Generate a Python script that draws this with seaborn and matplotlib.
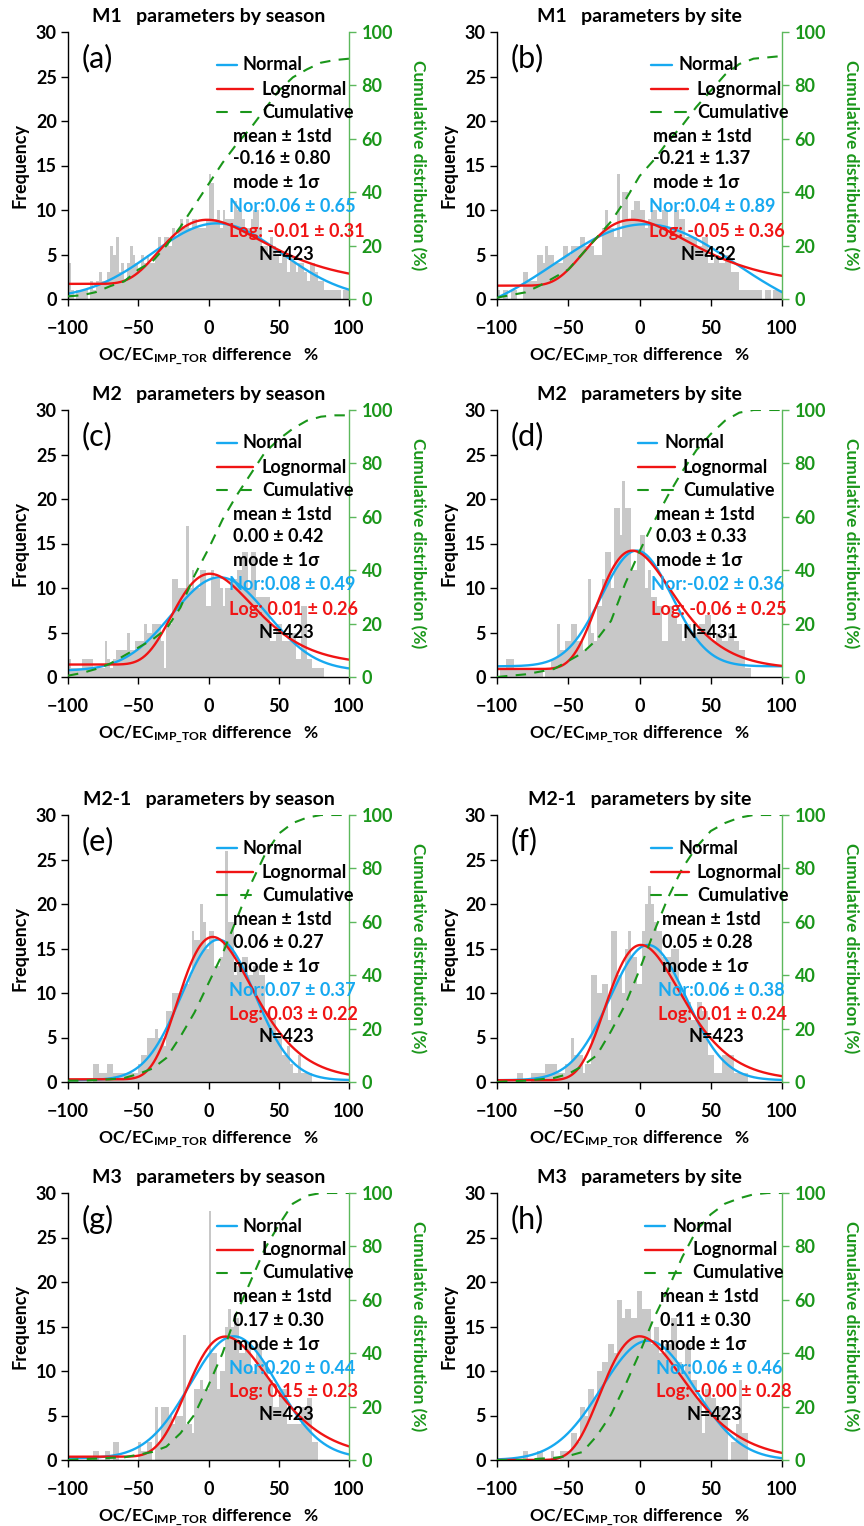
import numpy as np
import matplotlib
matplotlib.use("Agg")
import matplotlib.pyplot as plt
import seaborn as sns

sns.set_theme(style="ticks")
plt.rcParams['font.family'] = ['Lato', 'DejaVu Sans']
plt.rcParams['font.weight'] = 'bold'
plt.rcParams['text.color'] = 'black'
plt.rcParams['axes.labelcolor'] = 'black'
plt.rcParams['xtick.color'] = 'black'
plt.rcParams['ytick.color'] = 'black'
plt.rcParams['mathtext.fontset'] = 'custom'
plt.rcParams['mathtext.rm'] = 'Lato:bold'
plt.rcParams['mathtext.bf'] = 'Lato:bold'
plt.rcParams['mathtext.it'] = 'Lato:bold'

# ---------------- data ----------------
bin_edges = np.arange(-100, 101, 2)
bin_centers = bin_edges[:-1] + 1
cum_x = [-100, -90, -80, -70, -60, -50, -40, -30, -20, -10, 0, 10, 20, 30, 40, 50, 60, 70, 80, 90, 100]

letters = ["(a)", "(b)", "(c)", "(d)", "(e)", "(f)", "(g)", "(h)"]
titles = ["M1   parameters by season", "M1   parameters by site",
          "M2   parameters by season", "M2   parameters by site",
          "M2-1   parameters by season", "M2-1   parameters by site",
          "M3   parameters by season", "M3   parameters by site"]
mean_std = ["-0.16 ± 0.80", "-0.21 ± 1.37", "0.00 ± 0.42", "0.03 ± 0.33",
            "0.06 ± 0.27", "0.05 ± 0.28", "0.17 ± 0.30", "0.11 ± 0.30"]
nor_txt = ["Nor:0.06 ± 0.65", "Nor:0.04 ± 0.89", "Nor:0.08 ± 0.49", "Nor:-0.02 ± 0.36",
           "Nor:0.07 ± 0.37", "Nor:0.06 ± 0.38", "Nor:0.20 ± 0.44", "Nor:0.06 ± 0.46"]
log_txt = ["Log: -0.01 ± 0.31", "Log: -0.05 ± 0.36", "Log: 0.01 ± 0.26", "Log: -0.06 ± 0.25",
           "Log: 0.03 ± 0.22", "Log: 0.01 ± 0.24", "Log: 0.15 ± 0.23", "Log: -0.00 ± 0.28"]
n_txt = ["N=423", "N=432", "N=423", "N=431", "N=423", "N=423", "N=423", "N=423"]

counts_a = [4,1,0,1,1,1,1,0,2,1, 2,3,2,2,3,6,5,7,3,4, 2,4,6,5,4,3,5,4,5,4, 4,5,7,6,7,7,6,8,7,8,
            9,8,9,8,9,9,8,8,8,9, 14,13,9,10,8,10,9,9,9,11, 10,10,9,8,8,9,10,10,8,6,
            6,5,7,6,5,4,5,5,3,5, 4,3,4,4,3,2,4,4,3,2, 2,1,1,1,1,1,1,0,1,1]
counts_b = [1,0,1,1,0,1,1,0,0,3, 3,2,2,2,5,5,4,6,5,5, 4,4,4,6,6,5,6,6,6,7, 7,6,6,6,5,5,5,8,10,8,
            8,7,14,7,12,12,9,10,11,11, 10,10,8,9,10,10,9,9,10,10, 8,8,10,10,9,9,7,7,7,7,
            6,6,7,7,4,4,5,5,4,4, 5,5,3,3,3,1,1,1,1,1, 1,1,1,0,1,1,0,1,1,1]
counts_c = [2,1,1,1,1,2,2,2,2,1, 1,1,1,4,2,1,2,3,3,3, 3,5,3,3,4,4,4,6,5,5, 6,6,6,4,1,6,6,11,11,10,
            10,10,17,10,12,10,10,12,12,8, 8,12,11,11,10,8,10,10,11,11, 12,12,14,14,10,14,14,9,9,9,
            9,9,4,4,6,6,4,4,4,5, 5,2,2,8,8,2,2,1,1,1, 1,0,0,0,0,0,0,0,0,0]
counts_d = [0,1,1,2,2,2,1,1,1,1, 1,1,1,1,1,1,0,1,1,2, 2,6,3,3,4,4,6,6,4,4, 3,3,11,5,4,8,8,11,14,14,
            10,19,19,16,22,19,19,12,12,14, 16,16,10,12,9,9,8,8,4,4, 8,8,7,6,6,4,6,6,5,5,
            5,6,6,7,7,4,4,5,5,4, 4,5,5,4,4,3,3,1,1,0, 0,0,0,0,0,0,0,0,0,0]
counts_e = [0,0,0,0,0,0,0,0,0,2, 2,1,1,1,2,2,1,1,1,1, 1,1,1,1,1,2,3,3,5,5, 5,6,5,5,4,8,8,10,10,10,
            10,11,11,12,17,16,16,20,18,15, 17,17,13,13,14,16,26,18,18,12, 13,13,14,14,12,12,13,13,12,12,
            8,8,7,7,5,5,3,3,4,2, 1,1,3,1,1,1,1,0,0,0, 0,0,0,0,0,0,0,0,0,0]
counts_f = [0,0,0,0,0,0,0,1,1,0, 0,0,1,1,1,1,1,2,2,2, 2,1,1,1,2,2,5,3,3,3, 1,2,2,12,12,10,10,11,11,7,
            17,17,12,12,10,15,17,14,14,11, 11,17,20,22,20,18,17,17,14,14, 14,15,15,15,10,10,9,9,7,7,
            9,9,8,8,3,3,1,1,1,3, 3,3,3,1,1,1,1,1,0,0, 0,0,0,0,0,0,0,0,0,0]
counts_g = [0,0,0,0,0,0,0,0,0,1, 1,0,0,1,1,0,2,2,0,0, 0,0,0,0,0,2,1,1,2,2, 0,6,2,6,6,6,5,4,5,5,
            5,14,4,4,3,8,8,9,8,8, 28,12,12,8,10,10,15,17,15,16, 16,12,12,13,13,10,10,13,13,11,
            11,9,9,6,6,8,8,8,4,4, 4,4,4,6,6,7,7,2,2,0, 0,0,0,0,0,0,0,0,0,0]
counts_h = [0,0,0,0,0,0,0,0,0,1, 1,0,0,0,1,1,0,0,0,1, 0,0,1,1,1,1,3,3,2,6, 6,5,8,8,7,10,10,11,11,13,
            13,12,18,18,16,17,17,16,16,19, 19,17,17,17,13,15,15,12,12,13, 13,16,16,11,11,10,13,13,9,9,
            7,7,3,8,8,7,7,5,6,6, 6,0,2,2,4,9,3,3,0,0, 0,0,0,0,0,0,0,0,0,0]
counts_all = [counts_a, counts_b, counts_c, counts_d, counts_e, counts_f, counts_g, counts_h]

cum_a = [1, 1.4, 2.6, 4.8, 6.6, 11, 14, 20, 27, 35, 43, 51, 58, 64, 71, 78, 83, 86, 88.5, 89.5, 90]
cum_b = [0.5, 1.5, 2.5, 5, 8, 11, 17, 23, 29, 37, 46, 52, 59, 65, 72, 78, 84, 88, 90, 90.5, 91]
cum_c = [0.5, 1.5, 3, 5, 8, 11, 14, 18, 26, 38, 48, 59, 68, 76, 84, 89, 93, 96, 97.5, 98, 98]
cum_d = [0, 0.5, 1, 2, 3, 6, 9, 14, 21, 35, 47, 58, 68, 77, 85, 91, 96, 99, 100, 100, 100]
cum_e = [0.5, 0.5, 0.7, 1, 1.5, 3, 5, 9, 17, 26, 37, 48, 61, 74, 85, 93, 97, 99, 100, 100, 100]
cum_f = [0, 0.3, 0.5, 1, 1.5, 3, 6, 10, 19, 29, 42, 56, 69, 80, 88, 94, 97, 99, 100, 100, 100]
cum_g = [0, 0.3, 0.5, 0.8, 1, 2, 3, 5, 10, 17, 28, 40, 55, 67, 79, 88, 96, 99, 100, 100, 100]
cum_h = [0, 0, 0, 0.5, 0.8, 1.5, 3, 9, 17, 28, 40, 53, 64, 76, 86, 92, 96, 98, 99.5, 100, 100]
cum_all = [cum_a, cum_b, cum_c, cum_d, cum_e, cum_f, cum_g, cum_h]

# fitted curve parameters: (y0, A, x0, width)
normal_fit = [(0.0, 8.5, 6, 65), (-2.7, 11.1, 4, 89), (0.7, 10.5, 8, 48), (1.2, 13.0, -2, 35),
              (0.2, 15.8, 7, 37), (0.2, 15.2, 6, 38), (0.2, 13.7, 18, 44), (0.0, 13.4, 6, 46)]
lognormal_fit = [(1.7, 7.2, -1, 0.52), (1.5, 7.4, -5, 0.54), (1.4, 10.2, 1, 0.40), (0.9, 13.3, -5, 0.39),
                 (0.3, 16.0, 3, 0.36), (0.2, 15.2, 1, 0.365), (0.37, 13.5, 12, 0.37), (0.0, 13.9, 0, 0.41)]

# ---------------- styling ----------------
BAR = '#c8c8c8'
BLUE = '#17a9f0'
RED = '#f01414'
GREEN = '#1a961a'
GREEN_AX = '#5cb85c'

W_PX, H_PX = 864, 1526
col_x = [68, 497]
col_w = [281, 285]
row_top = [32, 410, 815, 1193]
AX_H = 267

anchors = [
    (149, 169, 175, 185, 194, 165, 161, 191),
    (154, 175, 182, 191, 200, 156, 152, 183),
    (149, 169, 175, 185, 194, 165, 161, 191),
    (141, 160, 168, 178, 186, 159, 154, 185),
    (149, 169, 175, 185, 194, 165, 161, 191),
    (154, 175, 181, 192, 200, 165, 161, 192),
    (149, 169, 175, 185, 194, 165, 161, 191),
    (148, 168, 176, 186, 195, 163, 159, 189),
]
row_dy = [33, 57, 80, 104, 127, 151, 175, 199, 222]

fig = plt.figure(figsize=(W_PX / 100, H_PX / 100), dpi=100)

xg = np.linspace(-99.99, 100, 600)
TICK_FS = 13
FS = 13

for k in range(8):
    r, c = divmod(k, 2)
    aw = col_w[c]
    left = col_x[c] / W_PX
    bottom = 1 - (row_top[r] + AX_H) / H_PX
    ax = fig.add_axes([left, bottom, aw / W_PX, AX_H / H_PX])

    sns.histplot(x=bin_centers, weights=np.asarray(counts_all[k], dtype=float),
                 binwidth=2, binrange=(-100, 100), color=BAR,
                 edgecolor='none', linewidth=0, alpha=1, ax=ax)

    y0, A, x0, w = normal_fit[k]
    yn = y0 + A * np.exp(-((xg - x0) / w) ** 2)
    sns.lineplot(x=xg, y=yn, color=BLUE, linewidth=1.7, ax=ax)
    y0, A, x0, w = lognormal_fit[k]
    yl = y0 + A * np.exp(-(np.log((xg + 100) / (x0 + 100)) / w) ** 2)
    sns.lineplot(x=xg, y=yl, color=RED, linewidth=1.7, ax=ax)

    ax.set_xlim(-100, 100)
    ax.set_ylim(0, 30)
    ax.set_xticks([-100, -50, 0, 50, 100])
    ax.set_yticks([0, 5, 10, 15, 20, 25, 30])
    ax.tick_params(axis='both', direction='out', length=5, width=1, labelsize=TICK_FS)
    ax.tick_params(axis='x', pad=10)
    ax.tick_params(axis='y', pad=3)
    for sp in ['top', 'right']:
        ax.spines[sp].set_visible(False)
    for sp in ['left', 'bottom']:
        ax.spines[sp].set_color('black')
        ax.spines[sp].set_linewidth(1)
    ax.set_ylabel('Frequency', fontsize=13, fontweight='bold', labelpad=5)
    ax.set_xlabel(r'OC/EC$_{\mathrm{IMP\_TOR}}$ difference   %', fontsize=12.5,
                  fontweight='bold', labelpad=6)
    ax.set_title(titles[k], fontsize=14, fontweight='bold', pad=7)

    ax2 = ax.twinx()
    sns.lineplot(x=cum_x, y=cum_all[k], color=GREEN, linewidth=1.5, ax=ax2)
    ax2.lines[-1].set_dashes((5, 4))
    ax2.set_ylim(0, 100)
    ax2.set_yticks([0, 20, 40, 60, 80, 100])
    ax2.tick_params(axis='y', direction='out', length=5, width=1, labelsize=TICK_FS,
                    colors=GREEN_AX, labelcolor=GREEN, pad=4)
    for sp in ['top', 'left', 'bottom']:
        ax2.spines[sp].set_visible(False)
    ax2.spines['right'].set_color(GREEN_AX)
    ax2.spines['right'].set_linewidth(1)
    ax2.set_ylabel('Cumulative distribution (%)', color=GREEN, fontsize=12.5,
                   fontweight='bold', rotation=270, labelpad=24)

    ax2.text(14 / aw, 1 - 26 / AX_H, letters[k], transform=ax2.transAxes, fontsize=22,
             fontweight='normal', ha='left', va='center', color='black')

    lx0, nx1, ntx, lx1, ltx, sx, nrx, nnx = anchors[k]
    fx = lambda px: px / aw
    fy = lambda dy: 1 - dy / AX_H
    tr = ax2.transAxes
    ax2.plot([fx(lx0), fx(nx1)], [fy(row_dy[0])] * 2, color=BLUE, lw=1.7, transform=tr, clip_on=False)
    ax2.text(fx(ntx), fy(row_dy[0]), 'Normal', transform=tr, fontsize=FS, ha='left', va='center')
    ax2.plot([fx(lx0), fx(lx1)], [fy(row_dy[1])] * 2, color=RED, lw=1.7, transform=tr, clip_on=False)
    ax2.text(fx(ltx), fy(row_dy[1]), 'Lognormal', transform=tr, fontsize=FS, ha='left', va='center')
    ax2.plot([fx(lx0), fx(lx0 + 10)], [fy(row_dy[2])] * 2, color=GREEN, lw=1.5, transform=tr, clip_on=False)
    ax2.plot([fx(lx0 + 24), fx(lx1 - 2)], [fy(row_dy[2])] * 2, color=GREEN, lw=1.5, transform=tr, clip_on=False)
    ax2.text(fx(ltx), fy(row_dy[2]), 'Cumulative', transform=tr, fontsize=FS, ha='left', va='center')
    ax2.text(fx(sx), fy(row_dy[3]), 'mean ± 1std', transform=tr, fontsize=FS, ha='left', va='center')
    ax2.text(fx(sx), fy(row_dy[4]), mean_std[k], transform=tr, fontsize=FS, ha='left', va='center')
    ax2.text(fx(sx), fy(row_dy[5]), 'mode ± 1σ', transform=tr, fontsize=FS, ha='left', va='center')
    ax2.text(fx(nrx), fy(row_dy[6]), nor_txt[k], transform=tr, fontsize=FS, ha='left', va='center', color=BLUE)
    ax2.text(fx(nrx), fy(row_dy[7]), log_txt[k], transform=tr, fontsize=FS, ha='left', va='center', color=RED)
    ax2.text(fx(nnx), fy(row_dy[8]), n_txt[k], transform=tr, fontsize=FS, ha='left', va='center')

fig.savefig('out.png', dpi=100)
